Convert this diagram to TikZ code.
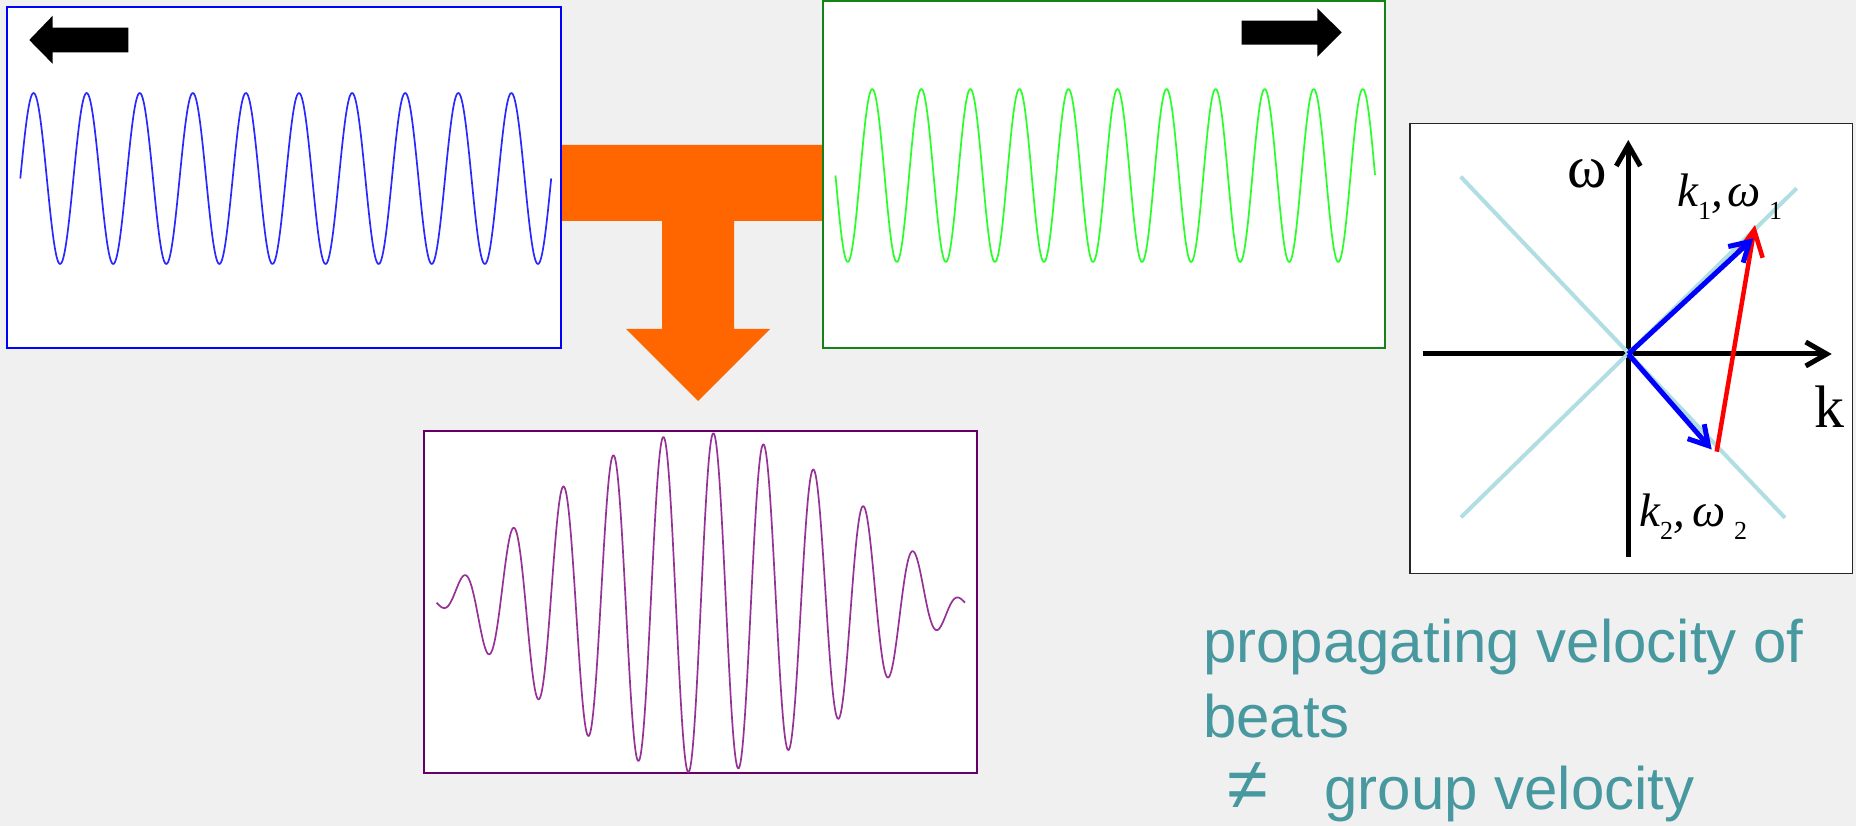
\documentclass[tikz,border=0pt]{standalone}
\usepackage{fontspec}
\setmainfont{Liberation Sans}
\newfontfamily\tms{Liberation Serif}
\usetikzlibrary{arrows.meta}
\definecolor{bg}{RGB}{240,240,240}
\definecolor{orng}{RGB}{255,102,0}
\definecolor{wblue}{RGB}{40,40,255}
\definecolor{wgreen}{RGB}{40,255,40}
\definecolor{bgreen}{RGB}{20,130,20}
\definecolor{wpurp}{RGB}{150,50,150}
\definecolor{bpurp}{RGB}{102,0,102}
\definecolor{lblue}{RGB}{176,222,226}
\definecolor{tealtxt}{RGB}{72,152,160}
\newcommand\subdig[1]{\raisebox{-13pt}{\upshape\fontsize{26}{26}\selectfont #1}}
\begin{document}
\begin{tikzpicture}[x=1pt,y=-1pt,
  panel/.style={fill=white, line width=2pt},
  wave/.style={line width=1.7pt, line join=round},
  blockarrow/.style={fill=black},
  axisline/.style={line width=5pt, -{Straight Barb[length=21pt,width=24pt]}},
  lightline/.style={lblue, line width=4pt},
  vecblue/.style={blue, line width=5pt, -{Straight Barb[length=19pt,width=22pt]}},
  vecred/.style={red, line width=4.5pt, -{Straight Barb[length=26pt,width=26pt]}},
  lab/.style={inner sep=0pt, font={\tms\itshape\fontsize{47}{47}\selectfont}},
  axlab/.style={inner sep=0pt, font={\tms\fontsize{60}{60}\selectfont}},
  txt/.style={inner sep=0pt, text=tealtxt, font={\fontsize{60}{72}\selectfont}}]
\useasboundingbox (0,0) rectangle (1856,826);
\fill[bg] (0,0) rectangle (1856,826);

% orange T arrow
\fill[orng] (561,145) -- (823,145) -- (823,221) -- (734,221) -- (734,329) -- (770,329)
  -- (698,401) -- (626,329) -- (662,329) -- (662,221) -- (561,221) -- cycle;

% panels
\draw[panel, draw=blue] (7.3,6.7) rectangle (561,348);
\draw[panel, draw=bgreen] (823.3,1.3) rectangle (1385,348);
\draw[panel, draw=bpurp] (424,431) rectangle (977,773);
\draw[panel, draw=black!85, line width=1.5pt] (1410,123.3) rectangle (1852.5,573.3);

% black block arrows
\fill[blockarrow] (29.3,40) -- (52.7,15.7) -- (52.7,27.7) -- (128.3,27.7) -- (128.3,52.3)
  -- (52.7,52.3) -- (52.7,63.8) -- cycle;
\fill[blockarrow] (1341.7,32.3) -- (1317.3,8.3) -- (1317.3,20.7) -- (1241.7,20.7) -- (1241.7,44.7)
  -- (1317.3,44.7) -- (1317.3,56.7) -- cycle;

% waves
\draw[wave, wblue] plot[domain=20.3:551.2, samples=600] (\x, {178.5 - 85.5*sin((\x-20.3)*6.7810)});
\draw[wave, wgreen] plot[domain=835.5:1375, samples=600] (\x, {175.5 + 86.5*sin((\x-835.5)*7.3394)});
\draw[wave, wpurp] plot[domain=436.6:965, samples=700] (\x, {602.7 - 170*cos((\x-700.8)*0.34065)*cos((\x-713.4)*7.1856)});

% dispersion diagram
\coordinate (O) at (1628.3,354);
\coordinate (xL) at (1422.7,354);
\coordinate (xR) at (1831.7,354);
\coordinate (yB) at (1628.3,556.7);
\coordinate (yT) at (1628.3,140);
\coordinate (L1a) at (1460.7,176.7);
\coordinate (L1b) at (1785,517.8);
\coordinate (L2a) at (1461,517.3);
\coordinate (L2b) at (1796.7,188.3);
\coordinate (K1) at (1753.3,238.3);
\coordinate (K2) at (1711.7,449.5);
\coordinate (R0) at (1716.7,451.7);
\coordinate (R1) at (1755,225);

\draw[axisline] (xL) -- (xR);
\draw[axisline] (yB) -- (yT);
\draw[lightline] (L1a) -- (L1b);
\draw[lightline] (L2a) -- (L2b);
\draw[vecred] (R0) -- (R1);
\draw[vecblue] (O) -- (K1);
\draw[vecblue] (O) -- (K2);

\node[axlab, anchor=base] (wlab) at (1587.5,188) {ω};
\node[axlab, anchor=base] (klab) at (1829,427) {k};
\node[lab, anchor=base west] (k1lab) at (1677,206.7) {k\subdig{1},\hspace{5pt}ω\hspace{8pt}\subdig{1}};
\node[lab, anchor=base west] (k2lab) at (1639,526.7) {k\subdig{2},\hspace{8pt}ω\hspace{8pt}\subdig{2}};

% caption text
\node[txt, anchor=base west] (t1) at (1203,662) {propagating velocity of};
\node[txt, anchor=base west] (t2) at (1203,737) {beats};
\node[txt, anchor=base west] (t3) at (1203,809) {\hspace{24.5pt}{\fontsize{74}{74}\selectfont ≠}\hspace{56pt}group velocity};
\end{tikzpicture}
\end{document}
